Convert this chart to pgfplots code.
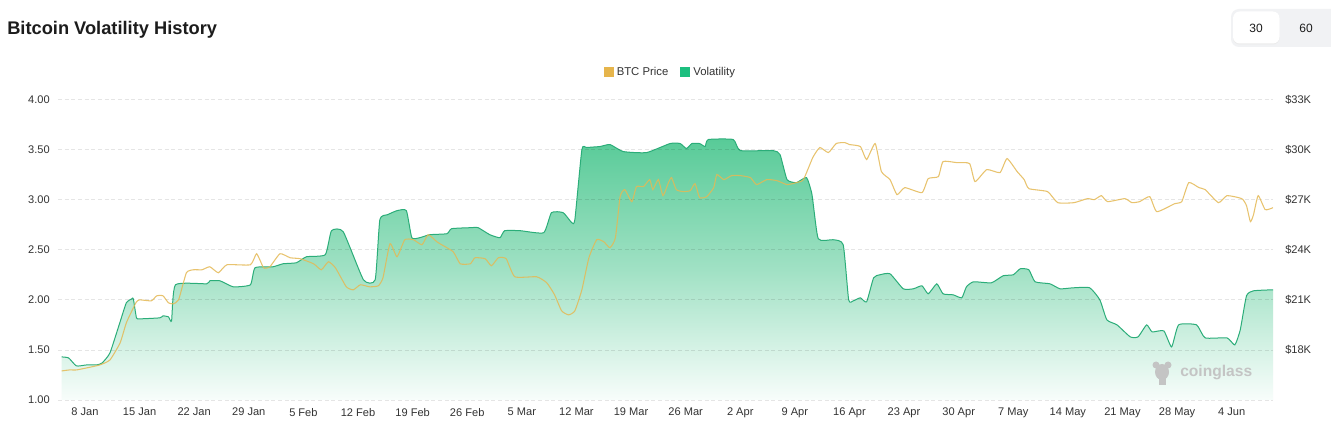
\documentclass[border=0pt]{standalone}
\usepackage{pgfplots}
\pgfplotsset{compat=1.18}
\usepackage{pgfplotstable}
\usepackage{fontspec}
\setmainfont{Liberation Sans}
\definecolor{volgreen}{HTML}{1DBF7F}
\definecolor{volline}{HTML}{2BAD79}
\definecolor{btcgold}{HTML}{E6B54C}
\definecolor{btcline}{HTML}{E4B955}
\definecolor{filltop}{HTML}{58CB98}
\definecolor{fillmid}{HTML}{A0E1C4}
\definecolor{fillbot}{HTML}{F8FDFB}
\definecolor{ticktext}{HTML}{333333}
\definecolor{titletext}{HTML}{1C1C1C}
\definecolor{btnbg}{HTML}{F1F2F4}
\definecolor{wm}{HTML}{C4C4C4}

\pgfplotstableread{
d vol
-3.0 1.43
-2.1 1.42
-1.1 1.34
0.2 1.35
1.5 1.35
2.2 1.37
3.2 1.47
4.5 1.78
5.3 1.97
6.0 2.01
6.2 2.01
6.6 1.82
7.0 1.81
9.6 1.82
10.0 1.84
10.7 1.83
11.1 1.79
11.6 2.15
15.6 2.16
16.0 2.19
17.3 2.19
19.0 2.13
21.2 2.15
21.8 2.32
24.1 2.33
25.4 2.36
27.1 2.37
28.4 2.43
30.8 2.45
31.6 2.69
33.1 2.68
35.7 2.20
37.2 2.20
37.8 2.80
38.8 2.85
40.0 2.89
41.2 2.89
41.9 2.62
42.9 2.62
44.2 2.65
46.4 2.66
47.0 2.71
49.4 2.72
50.4 2.72
51.9 2.65
53.2 2.62
53.8 2.69
55.8 2.69
58.8 2.67
59.8 2.87
61.3 2.87
62.4 2.77
62.8 2.80
63.7 3.50
64.3 3.52
66.0 3.53
67.3 3.55
69.0 3.48
72.0 3.47
75.0 3.56
76.3 3.56
77.1 3.51
77.8 3.56
78.8 3.56
79.5 3.53
79.9 3.60
83.1 3.60
84.0 3.49
88.2 3.49
89.1 3.45
90.0 3.20
91.2 3.17
92.5 3.22
93.2 3.05
94.0 2.61
95.9 2.60
97.2 2.55
97.9 2.00
98.5 1.99
99.4 2.02
100.2 1.98
101.1 2.22
101.9 2.25
103.2 2.26
104.9 2.11
106.2 2.11
107.3 2.14
108.1 2.06
109.2 2.16
110.0 2.06
111.3 2.05
112.4 2.02
113.0 2.13
113.9 2.18
116.2 2.17
117.7 2.24
119.0 2.25
119.9 2.31
121.0 2.30
121.8 2.18
123.7 2.16
125.0 2.11
126.7 2.12
128.8 2.12
130.1 2.00
131.0 1.80
132.3 1.75
134.0 1.63
135.0 1.63
136.1 1.75
136.8 1.68
138.3 1.69
139.3 1.53
140.2 1.75
142.5 1.75
143.6 1.62
146.4 1.62
147.4 1.55
148.1 1.70
148.9 2.04
149.8 2.09
152.3 2.10
}\voltable

\pgfplotstableread{
d price
-3.0 16740
-2.0 16800
-1.1 16800
0.2 16920
1.9 17100
3.2 17400
4.5 18420
5.3 19620
6.2 20520
6.6 20880
7.0 21000
8.5 20940
9.2 21240
10.0 21240
10.7 20820
11.3 20760
12.0 21000
13.0 22620
13.9 22800
15.0 22800
16.0 22980
17.1 22620
18.2 23100
21.2 23100
22.0 23760
22.9 22920
23.7 22980
25.0 23760
26.3 23520
27.6 23460
29.3 23160
30.3 22800
31.2 23280
32.1 22920
33.5 21780
34.4 21600
35.3 21900
36.5 21780
37.6 21840
38.2 22320
39.1 24360
40.0 23580
41.0 24600
42.1 24600
43.2 24300
44.0 24900
45.1 24480
45.5 24360
47.2 23880
48.1 23160
49.4 23160
50.0 23520
51.3 23460
52.1 23040
53.0 23520
54.0 23460
55.1 22380
57.9 22380
59.2 22020
60.2 21300
61.1 20340
62.0 20100
62.8 20340
63.7 21600
64.6 23520
65.6 24600
66.5 24480
67.3 24120
68.0 24720
68.6 27180
69.2 27600
70.1 26880
70.7 27780
71.6 27780
72.4 28200
72.8 27600
73.5 28200
74.1 27240
74.8 28020
75.2 28320
75.8 27600
76.7 27480
77.6 27540
78.2 27960
78.8 27120
79.7 27180
80.6 27720
81.0 28500
81.9 28200
82.9 28440
84.0 28440
85.3 28320
86.1 27900
87.4 28200
88.7 28140
90.0 27900
91.2 28020
92.1 28200
93.3 29520
94.2 30120
95.3 29820
96.3 30360
97.4 30420
98.0 30300
99.4 30180
100.2 29400
101.3 30360
102.1 28680
103.2 28200
104.1 27300
105.1 27720
107.3 27420
108.1 28260
109.4 28380
110.0 29280
111.7 29220
113.4 29160
114.1 28080
115.6 28800
117.3 28620
118.2 29460
119.5 28680
120.4 28200
121.0 27660
123.4 27480
124.7 26820
126.8 26820
128.5 27060
129.4 27000
130.3 27240
131.1 26880
133.3 27060
134.2 26820
135.2 26880
136.5 27180
137.4 26280
139.7 26760
140.6 26880
141.5 28020
142.8 27720
143.6 27600
145.3 26820
146.4 27240
148.3 27060
148.9 26640
149.4 25680
149.8 26100
150.4 27240
151.3 26400
152.3 26520
}\btctable

\begin{document}
\begin{tikzpicture}
\useasboundingbox (0,0) rectangle (998.25pt,318pt);
\fill[white] (0,0) rectangle (998.25pt,318pt);
\begin{axis}[
  at={(43.5pt,18pt)}, anchor=south west, scale only axis,
  width=911.25pt, height=225.4pt,
  xmin=-3.46, xmax=152.3, ymin=1, ymax=4,
  axis lines=left, axis line style={draw=none}, major tick length=0pt,
  xtick={0,7,...,147},
  xticklabels={8 Jan,15 Jan,22 Jan,29 Jan,5 Feb,12 Feb,19 Feb,26 Feb,5 Mar,12 Mar,19 Mar,26 Mar,2 Apr,9 Apr,16 Apr,23 Apr,30 Apr,7 May,14 May,21 May,28 May,4 Jun},
  ytick={1,1.5,2,2.5,3,3.5,4},
  yticklabels={1.00,1.50,2.00,2.50,3.00,3.50,4.00},
  ymajorgrids, grid style={black, opacity=0.1, dash pattern=on 3pt off 2pt, line width=0.5pt},
  tick label style={font=\fontsize{8.3}{10}\selectfont, text=ticktext},
  xticklabel style={inner sep=0pt, yshift=-6pt, anchor=north},
  yticklabel style={inner sep=0pt, xshift=-6pt, anchor=east},
  axis on top,
  legend image code/.code={\fill[#1] (0pt,-3.75pt) rectangle (7.5pt,3.75pt);},
  legend style={at={(0.504,1.0915)}, anchor=center, draw=none, fill=none,
    legend columns=2, font=\fontsize{8.5}{10}\selectfont, text=ticktext,
    nodes={inner sep=1.5pt},
    /tikz/every odd column/.append style={column sep=0.75pt},
    /tikz/every even column/.append style={column sep=7.5pt}},
]
\addlegendimage{fill=btcgold, draw=none}
\addlegendentry{BTC Price}
\addlegendimage{fill=volgreen, draw=none}
\addlegendentry{Volatility}
\addplot[draw=none, top color=filltop, bottom color=fillbot, middle color=fillmid, smooth, tension=0.3, forget plot]
  table[x=d, y=vol]{\voltable} \closedcycle;
\addplot[volline, line width=0.75pt, smooth, tension=0.3, forget plot]
  table[x=d, y=vol]{\voltable};
\end{axis}
\begin{axis}[
  at={(43.5pt,18pt)}, anchor=south west, scale only axis,
  width=911.25pt, height=225.4pt,
  xmin=-3.46, xmax=152.3, ymin=15000, ymax=33000,
  axis x line=none, axis y line*=right, axis line style={draw=none},
  major tick length=0pt, scaled y ticks=false,
  ytick={18000,21000,24000,27000,30000,33000},
  yticklabels={\$18K,\$21K,\$24K,\$27K,\$30K,\$33K},
  tick label style={font=\fontsize{8.3}{10}\selectfont, text=ticktext},
  yticklabel style={inner sep=0pt, xshift=9pt, anchor=west},
]
\addplot[btcline, opacity=0.85, line width=0.8pt, smooth, tension=0.3]
  table[x=d, y=price]{\btctable};
\end{axis}
\begin{scope}[shift={(0pt,318pt)}, x=0.75pt, y=-0.75pt]
  \node[anchor=base west, inner sep=0pt, text=titletext,
    font=\fontsize{13.7}{16}\selectfont\bfseries] at (7,35) {Bitcoin Volatility History};
  \fill[btnbg, rounded corners=6pt] (1231,9) rectangle (1345,47);
  \fill[black!8, rounded corners=5pt] (1233,12.5) rectangle (1279.5,44.5);
  \fill[white, rounded corners=5pt] (1233,11.5) rectangle (1279.5,43.5);
  \node[font=\fontsize{9}{10}\selectfont, text=titletext] at (1256,28) {30};
  \node[font=\fontsize{9}{10}\selectfont, text=titletext] at (1306,28) {60};
  % watermark
  \fill[wm] (1162,372) ellipse (7 and 8);
  \fill[wm] (1156,365) circle (3.5);
  \fill[wm] (1168,365) circle (3.5);
  \fill[wm] (1159,378) rectangle (1166,385);
  \node[anchor=west, inner sep=0pt, text=wm, font=\fontsize{11.7}{13}\selectfont\bfseries] at (1180,373) {coinglass};
\end{scope}
\end{tikzpicture}
\end{document}
